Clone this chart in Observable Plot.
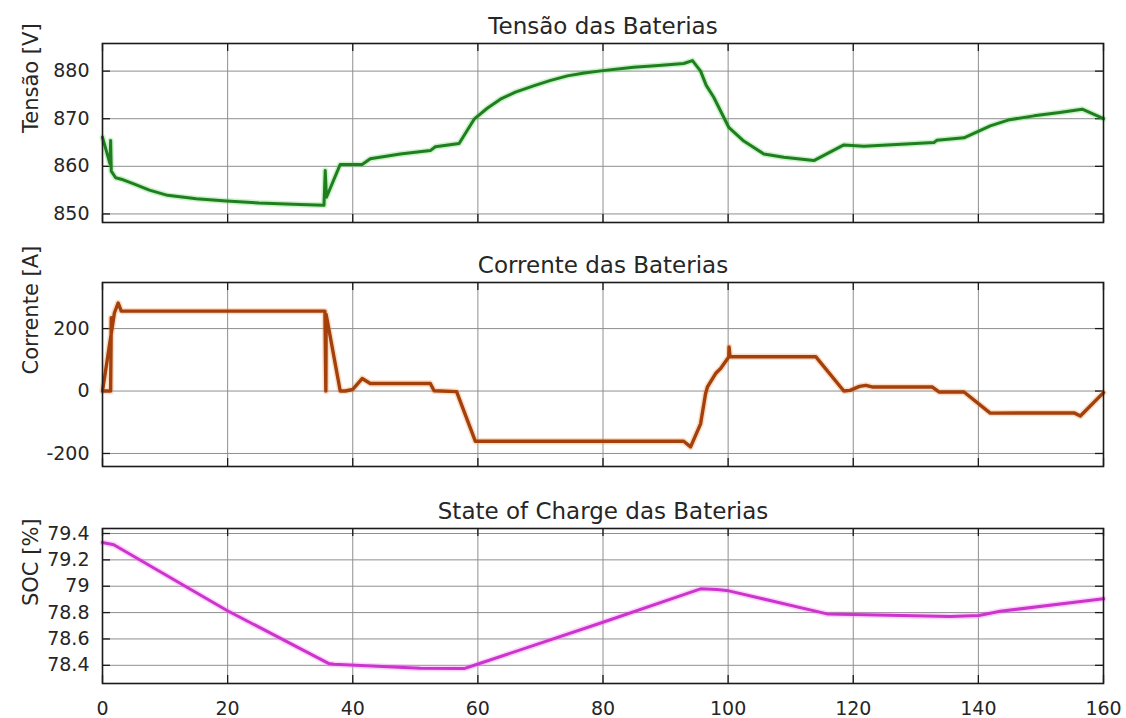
<!DOCTYPE html>
<html>
<head>
<meta charset="utf-8">
<script src="https://cdn.jsdelivr.net/npm/d3@7"></script>
<script src="https://cdn.jsdelivr.net/npm/@observablehq/plot@0.6"></script>
<style>
  html, body { margin: 0; padding: 0; background: #fff; }
  #fig { position: relative; width: 1126px; height: 718px; overflow: hidden; background: #fff; }
  #fig > svg { position: absolute; left: 0; }
</style>
</head>
<body>
<div id="fig"></div>
<script>
// Tempo (eixo comum)
const xTicks = [0, 20, 40, 60, 80, 100, 120, 140, 160];

// Tensão das baterias [V]
const tensaoT = [0, 1.2, 1.3, 1.4, 2.1, 3, 5, 7.5, 10.4, 15, 19.8, 25, 31.6, 35.4, 35.6, 35.8, 38, 41.5, 42.8, 47.6, 52.4, 53.2, 57, 59.4, 61.5, 63.6, 66, 68.9, 71.5, 74.3, 77, 80, 84.9, 88.9, 92.9, 94.3, 95.6, 96.5, 97.7, 100.1, 102.5, 105.7, 108.9, 113.7, 118.5, 121.7, 132.9, 133.4, 137.7, 141.9, 145, 148.9, 153, 156.6, 160];
const tensaoV = [866.1, 860.5, 865.4, 859.0, 857.6, 857.3, 856.3, 855.0, 853.9, 853.2, 852.7, 852.3, 852.0, 851.8, 859.1, 853.5, 860.4, 860.4, 861.6, 862.6, 863.3, 864.1, 864.8, 869.9, 872.2, 874.1, 875.6, 876.9, 878.0, 879.0, 879.6, 880.1, 880.8, 881.2, 881.6, 882.2, 880.0, 877.0, 874.5, 868.2, 865.3, 862.6, 861.9, 861.2, 864.5, 864.2, 865.0, 865.5, 866.0, 868.5, 869.8, 870.6, 871.3, 872.0, 870.0];
const tensaoTicks = [850, 860, 870, 880];

// Corrente das baterias [A] (null separa os dois trechos do transitório inicial)
const correnteT = [0, 1.3, 1.4, null, 0, 1.9, 2.5, 3.0, 35.4, 35.55, 35.7, 35.75, 38, 38.8, 40, 41.5, 42.8, 52.4, 53, 56.6, 59.6, 92.9, 94, 95.6, 96.4, 96.7, 98, 98.8, 100.1, 100.15, 100.3, 114, 118.5, 119.5, 121, 122, 123, 132.6, 133.7, 137.7, 141.9, 155.3, 156.3, 160];
const correnteI = [0, 0, 235, null, 0, 250, 282, 256, 256, 256, 0, 245, 0, 0, 5, 40, 24, 24, 1, -2, -161, -161, -179, -105, -8, 13, 56, 72, 109, 141, 110, 110, 0, 2, 15, 18, 13, 13, -3, -3, -70.6, -70, -80, -5];
const correnteTicks = [-200, 0, 200];

// State of Charge [%]
const socT = [0, 1.8, 19.9, 36.2, 37, 50.8, 57.8, 59.9, 80, 95.6, 98.2, 100.1, 115.8, 120, 135.5, 140.1, 143.5, 160];
const socV = [79.332, 79.315, 78.816, 78.413, 78.408, 78.377, 78.375, 78.408, 78.727, 78.98, 78.975, 78.965, 78.79, 78.785, 78.77, 78.778, 78.81, 78.905];
const socTicks = [78.4, 78.6, 78.8, 79, 79.2, 79.4];

const W = 1126, ML = 102, MR = 23;
const FONT = "DejaVu Sans, Liberation Sans, sans-serif";

function rows(ts, vs) {
  return ts.map((t, i) => ({t, v: vs[i]}));
}

function panel(o) {
  const plotH = o.height - o.mt - o.mb;
  const plotW = W - ML - MR;
  const data = rows(o.t, o.v);
  const marks = [
    Plot.gridX(xTicks, {stroke: "#8f8f8f", strokeOpacity: 1, strokeWidth: 1}),
    Plot.gridY(o.ticks, {stroke: "#8f8f8f", strokeOpacity: 1, strokeWidth: 1}),
    // marcas internas nos quatro lados
    Plot.tickX(xTicks, {x: d => d, stroke: "#1a1a1a", strokeWidth: 1.3, insetBottom: plotH - 8}),
    Plot.tickX(xTicks, {x: d => d, stroke: "#1a1a1a", strokeWidth: 1.3, insetTop: plotH - 8}),
    Plot.tickY(o.ticks, {y: d => d, stroke: "#1a1a1a", strokeWidth: 1.3, insetRight: plotW - 8}),
    Plot.tickY(o.ticks, {y: d => d, stroke: "#1a1a1a", strokeWidth: 1.3, insetLeft: plotW - 8}),
    Plot.line(data, {x: "t", y: "v", stroke: o.halo, strokeWidth: o.sw + 3, strokeOpacity: 0.3, strokeLinejoin: "round"}),
    Plot.line(data, {x: "t", y: "v", stroke: o.color, strokeWidth: o.sw, strokeLinejoin: "round"}),
    Plot.frame({stroke: "#1a1a1a", strokeWidth: 1.6}),
    Plot.axisY(o.ticks, {tickSize: 0, tickPadding: 13, tickFormat: o.fmt, fontSize: 19, label: null}),
    Plot.text([o.title], {text: d => d, frameAnchor: "top", dy: -10, lineAnchor: "bottom", fontSize: 23, fill: "#262626"}),
    Plot.text([o.ylabel], {text: d => d, frameAnchor: "left", dx: -71, rotate: -90, fontSize: 21, fill: "#262626"})
  ];
  if (o.xLabels) {
    marks.push(Plot.axisX(xTicks, {tickSize: 0, tickPadding: 18, fontSize: 19, label: null}));
  }
  const svg = Plot.plot({
    width: W,
    height: o.height,
    marginLeft: ML,
    marginRight: MR,
    marginTop: o.mt,
    marginBottom: o.mb,
    style: {fontFamily: FONT, color: "#262626", background: "transparent", overflow: "visible"},
    x: {domain: [0, 160], axis: null},
    y: {domain: o.domain, axis: null},
    marks
  });
  svg.style.top = o.top + "px";
  document.getElementById("fig").appendChild(svg);
}

panel({
  top: 0, height: 240, mt: 43, mb: 18,
  t: tensaoT, v: tensaoV, ticks: tensaoTicks, domain: [848.2, 885.8],
  fmt: d => String(d),
  title: "Tensão das Baterias", ylabel: "Tensão [V]",
  color: "#1f7f1f", halo: "#4fd04f", sw: 3
});

panel({
  top: 240, height: 240, mt: 42, mb: 14,
  t: correnteT, v: correnteI, ticks: correnteTicks, domain: [-241.7, 347.6],
  fmt: d => String(d),
  title: "Corrente das Baterias", ylabel: "Corrente [A]",
  color: "#a3400c", halo: "#f39040", sw: 3.4
});

panel({
  top: 480, height: 238, mt: 48, mb: 35,
  t: socT, v: socV, ticks: socTicks, domain: [78.262, 79.438],
  fmt: d => String(+d.toFixed(1)),
  title: "State of Charge das Baterias", ylabel: "SOC [%]",
  color: "#cc35cc", halo: "#ff70ff", sw: 3,
  xLabels: true
});
</script>
</body>
</html>
